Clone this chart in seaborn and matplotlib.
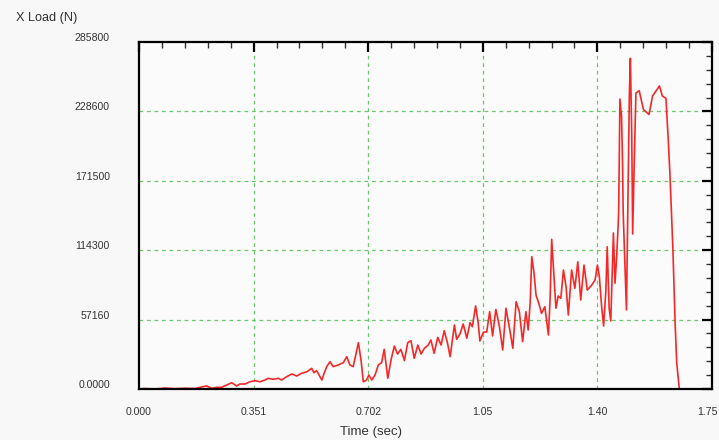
import numpy as np
import pandas as pd
import matplotlib
matplotlib.use("Agg")
import matplotlib.pyplot as plt
from matplotlib.ticker import FixedLocator, MultipleLocator
from matplotlib.transforms import ScaledTranslation
import seaborn as sns

# ---- data ----
time_s = [0.000, 0.018, 0.049, 0.080, 0.110, 0.141, 0.172, 0.187, 0.207, 0.223,
          0.238, 0.253, 0.269, 0.284, 0.299, 0.309, 0.325, 0.340, 0.355, 0.371,
          0.386, 0.396, 0.411, 0.427, 0.437, 0.452, 0.468, 0.483, 0.498, 0.514,
          0.529, 0.536, 0.544, 0.560, 0.567, 0.575, 0.585, 0.595, 0.610, 0.626,
          0.636, 0.646, 0.656, 0.672, 0.680, 0.687, 0.697, 0.704, 0.713, 0.723,
          0.733, 0.743, 0.751, 0.762, 0.772, 0.782, 0.792, 0.802, 0.813, 0.823,
          0.833, 0.843, 0.854, 0.864, 0.874, 0.886, 0.894, 0.904, 0.915, 0.925,
          0.935, 0.945, 0.953, 0.966, 0.973, 0.983, 0.993, 1.004, 1.014, 1.021,
          1.031, 1.039, 1.044, 1.055, 1.065, 1.074, 1.083, 1.093, 1.104, 1.114,
          1.124, 1.134, 1.145, 1.155, 1.165, 1.175, 1.185, 1.192, 1.198, 1.203,
          1.210, 1.216, 1.226, 1.233, 1.243, 1.254, 1.259, 1.264, 1.271, 1.277,
          1.284, 1.292, 1.300, 1.308, 1.315, 1.325, 1.335, 1.344, 1.353, 1.363,
          1.373, 1.387, 1.397, 1.404, 1.410, 1.417, 1.423, 1.430, 1.434, 1.440,
          1.445, 1.453, 1.458, 1.463, 1.469, 1.473, 1.478, 1.481, 1.483, 1.488,
          1.493, 1.496, 1.502, 1.505, 1.509, 1.512, 1.517, 1.522, 1.532, 1.545,
          1.562, 1.573, 1.594, 1.603, 1.614, 1.621, 1.626, 1.635, 1.642, 1.647,
          1.652, 1.655, 1.672]
x_load_n = [0, 400, 0, 800, 250, 600, 400, 1400, 2500, 600,
            1400, 1400, 3300, 5200, 2500, 4100, 4100, 6000, 6800, 6000,
            7400, 8800, 8000, 8800, 7400, 10100, 12400, 10700, 12900, 14200,
            17000, 13400, 15100, 7400, 12900, 18400, 22500, 18400, 19800, 21700,
            26600, 19800, 18400, 38100, 23900, 6000, 7400, 11500, 7400, 11500,
            19800, 21700, 32700, 8800, 23900, 35400, 28800, 32700, 23400, 38100,
            39800, 25300, 36200, 28800, 33500, 36200, 40400, 29400, 42600, 36200,
            48000, 37600, 26600, 52700, 40900, 45300, 53500, 41800, 54600, 51300,
            68400, 54100, 39500, 46900, 46900, 63700, 43700, 65600, 51300, 32100,
            66500, 51300, 33500, 71900, 63700, 39000, 63700, 48600, 70600, 109000,
            95300, 77400, 69200, 62300, 67800, 44500, 73300, 123300, 92500, 66500,
            76600, 74700, 98000, 84300, 60900, 98000, 82900, 104800, 73300, 102100,
            81500, 85700, 89800, 102100, 92500, 67800, 51900, 81500, 117200, 66500,
            56000, 128500, 87100, 109000, 143300, 238800, 224300, 185900, 144700, 106200,
            65100, 125400, 243500, 272400, 213300, 127700, 188400, 243800, 245700, 230200,
            226100, 241300, 249600, 241300, 239400, 205100, 177900, 117200, 54400, 21200,
            7400, 0, 0]

x_ticks = [0.0, 0.351, 0.702, 1.053, 1.404, 1.755]
x_tick_labels = ["0.000", "0.351", "0.702", "1.05", "1.40", "1.75"]
y_ticks = [0, 57160, 114320, 171480, 228640, 285800]
y_tick_labels = ["0.0000", "57160", "114300", "171500", "228600", "285800"]

df = pd.DataFrame({"Time (sec)": time_s, "X Load (N)": x_load_n})

# ---- figure ----
sns.set_style("white")
plt.rcParams["font.family"] = ["Liberation Sans", "DejaVu Sans"]

W, H = 719, 440
fig = plt.figure(figsize=(W / 100, H / 100), dpi=100)
fig.patch.set_facecolor("#f8f8f8")
ax = fig.add_axes([139 / W, (H - 389) / H, (712 - 139) / W, (389 - 42) / H])
ax.set_facecolor("#fbfbfb")

sns.lineplot(data=df, x="Time (sec)", y="X Load (N)", ax=ax, color="#f42828",
             linewidth=1.2, sort=False, estimator=None)

ax.set_xlim(0, 1.755)
ax.set_ylim(0, 285800)
ax.xaxis.set_major_locator(FixedLocator(x_ticks))
ax.yaxis.set_major_locator(FixedLocator(y_ticks))
ax.xaxis.set_minor_locator(MultipleLocator(0.351 / 5))
ax.yaxis.set_minor_locator(MultipleLocator(57160 / 5))
ax.set_xticklabels(x_tick_labels)
ax.set_yticklabels(y_tick_labels)
ax.set_xlabel("")
ax.set_ylabel("")

for s in ax.spines.values():
    s.set_color("black")
    s.set_linewidth(1.6)
    s.set_visible(True)

ax.tick_params(which="both", direction="in", top=True, right=True,
               colors="black", labelcolor="#333333", labelsize=7.6)
ax.tick_params(which="major", length=7, width=1.6)
ax.tick_params(which="minor", length=4, width=1.0, color="#333333")
ax.tick_params(axis="x", which="major", pad=13)
ax.tick_params(axis="y", which="major", pad=21)

# grid lines at interior major ticks
for xv in x_ticks[1:-1]:
    ax.axvline(xv, color="#6cc66c", linestyle=(0, (3, 3)), linewidth=0.9, zorder=0)
for yv in y_ticks[1:-1]:
    ax.axhline(yv, color="#6cc66c", linestyle=(0, (3, 3)), linewidth=0.9, zorder=0)

# shift y tick labels slightly upward as in the reference
for lab in ax.get_yticklabels():
    lab.set_transform(lab.get_transform() + ScaledTranslation(0, 0.05, fig.dpi_scale_trans))
# keep the last x label inside the canvas
xl = ax.get_xticklabels()
xl[-1].set_transform(xl[-1].get_transform() + ScaledTranslation(-0.05, 0, fig.dpi_scale_trans))

fig.text(16 / W, 1 - 18 / H, "X Load (N)", fontsize=9.2, color="#333333",
         ha="left", va="center")
fig.text(371 / W, 1 - 432 / H, "Time (sec)", fontsize=9.5, color="#333333",
         ha="center", va="center")

fig.savefig("out.png", dpi=100, facecolor=fig.get_facecolor())
